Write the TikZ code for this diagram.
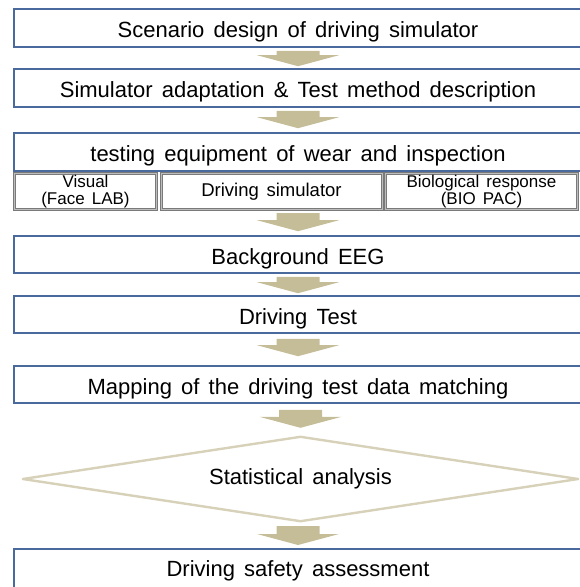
\documentclass[tikz,border=0pt]{standalone}
\usepackage{fontspec}
\setmainfont{Liberation Sans}[WordSpace=1.5]
\usetikzlibrary{calc}
\definecolor{boxblue}{HTML}{4A6A9E}
\definecolor{arrowtan}{HTML}{C4BD97}
\definecolor{diamtan}{HTML}{D6D1B8}
\definecolor{subgray}{HTML}{7A7A7A}
\definecolor{subinner}{HTML}{BDBDBD}
\tikzset{
  mainbox/.style={draw=boxblue,line width=1.6pt,fill=white,rectangle,inner sep=0pt,
    minimum width=568pt,text height=19pt,text depth=0pt,font=\fontsize{22}{23}\selectfont},
  subbox/.style={draw=subgray,double=subinner,double distance=0.8pt,line width=1.1pt,
    fill=white,rectangle,inner sep=0pt,
    minimum height=36pt,align=center,font=\fontsize{18.5}{13.5}\selectfont},
  subtwo/.style={font=\fontsize{17}{16.8}\selectfont},
  decisionframe/.style={rectangle,inner sep=0pt,minimum width=555pt,minimum height=84pt,
    font=\fontsize{22}{23}\selectfont},
  decisionline/.style={draw=diamtan,line width=2.4pt,line join=round},
  arrowfill/.style={fill=arrowtan,draw=none}
}
\newcommand{\flowarrow}[4]{%
  \path ($(#1.south -| #2.north)+(0,#3)$) coordinate (at)
        ($(#2.north)+(0,-#4)$) coordinate (ab);
  \fill[arrowfill] ($(at)+(-21.5,0)$) -- ($(at)+(21.5,0)$) -- ($(ab)+(21.5,-11)$)
     -- ($(ab)+(41,-11)$) -- (ab) -- ($(ab)+(-41,-11)$) -- ($(ab)+(-21.5,-11)$) -- cycle;
}
\begin{document}
\begin{tikzpicture}[x=1pt,y=-1pt]
\useasboundingbox (0,0) rectangle (580,587);
\node[mainbox,minimum height=38pt] (b1) at (298,28) {Scenario design of driving simulator};
\node[mainbox,minimum height=38pt] (b2) at (298,88) {Simulator adaptation \& Test method description};
\node[mainbox,minimum height=38pt] (b3) at (298,152) {testing equipment of wear and inspection};
\node[subbox,subtwo,minimum width=142pt] (s1) at (85.5,191.5) {Visual\\(Face LAB)};
\node[subbox,minimum width=221pt] (s2) at (271.5,191.5) {Driving simulator};
\node[subbox,subtwo,minimum width=192pt] (s3) at (481.5,191.5) {Biological response\\(BIO PAC)};
\node[mainbox,minimum height=37pt] (b4) at (298,254.5) {Background EEG};
\node[mainbox,minimum height=37pt] (b5) at (298,314.5) {Driving Test};
\node[mainbox,minimum height=37pt] (b6) at (298,384.5) {Mapping of the driving test data matching};
\node[decisionframe] (d) at (300.5,479) {Statistical analysis};
\draw[decisionline] (d.west) -- (d.north) -- (d.east) -- (d.south) -- cycle;
\node[mainbox,minimum height=42pt,anchor=north] (b7) at (298,548) {};
\node[font=\fontsize{22}{23}\selectfont] (t7) at (298,570.5) {Driving safety assessment};
\flowarrow{b1}{b2}{3}{2}
\flowarrow{b2}{b3}{3}{4}
\flowarrow{s2}{b4}{3}{4}
\flowarrow{b4}{b5}{3}{2}
\flowarrow{b5}{b6}{5}{9}
\flowarrow{b6}{d}{6}{9}
\flowarrow{d}{b7}{5}{3}
\end{tikzpicture}
\end{document}
